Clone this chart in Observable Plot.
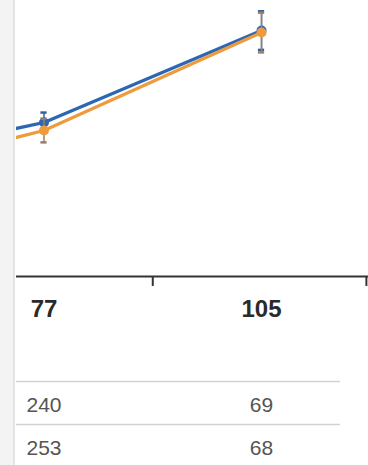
<!DOCTYPE html>
<html>
<head>
<meta charset="utf-8">
<script src="https://cdn.jsdelivr.net/npm/d3@7"></script>
<script src="https://cdn.jsdelivr.net/npm/@observablehq/plot@0.6"></script>
<style>
  html, body { margin: 0; padding: 0; background: #fff; }
  #wrap { position: relative; width: 368px; height: 465px; overflow: hidden; }
  #strip { position: absolute; left: 0; top: 0; width: 13px; height: 100%; background: #f3f3f3; border-right: 2px solid #e4e4e4; }
  #chart { position: relative; }
  #chart svg { display: block; }
</style>
</head>
<body>
<div id="wrap"><div id="strip"></div><div id="chart"></div></div>
<script>
// Visit days and mean response (with error) for the two arms
const visits = [49, 77, 105];
const seriesNames = ["A", "B"];
const meansA = [38.9, 55.8, 89.1];
const errorsA = [3.5, 3.6, 7.0];
const meansB = [33.2, 52.9, 88.4];
const errorsB = [4.0, 4.3, 7.2];

// Visits labelled under the axis, and the boundaries between visit windows
const labeledVisits = [77, 105];
const visitEdges = [91, 118.5];

// Number of subjects per arm at each labelled visit
const atRiskA = [240, 69];
const atRiskB = [253, 68];

const colors = { A: "#2b67b3", B: "#ee9b3d" };
const barColors = { A: "#3560a0", B: "#9c7d68" };
const font = "Liberation Sans, Arial, Helvetica, sans-serif";

const rows = [];
seriesNames.forEach((s, k) => {
  const m = k ? meansB : meansA;
  const e = k ? errorsB : errorsA;
  visits.forEach((t, i) => rows.push({ series: s, t, v: m[i], lo: m[i] - e[i], hi: m[i] + e[i] }));
});

const xScale = { domain: [73.46, 118.77], range: [16, 368], axis: null, label: null };

const seriesMarks = seriesNames.flatMap(s => {
  const d = rows.filter(r => r.series === s);
  const c = barColors[s];
  return [
    Plot.line(d, { x: "t", y: "v", stroke: colors[s], strokeWidth: 3.2, clip: true }),
    Plot.ruleX(d, { x: "t", y1: "lo", y2: "hi", stroke: c, strokeWidth: 1.5, clip: true }),
    Plot.ruleY(d, { y: "hi", x1: r => r.t - 0.4, x2: r => r.t + 0.4, stroke: c, strokeWidth: 2.5, clip: true }),
    Plot.ruleY(d, { y: "lo", x1: r => r.t - 0.4, x2: r => r.t + 0.4, stroke: c, strokeWidth: 2.5, clip: true }),
    Plot.dot(d, { x: "t", y: "v", r: 5, fill: colors[s], clip: true })
  ];
});

const chart = Plot.plot({
  width: 368,
  height: 330,
  marginLeft: 16,
  marginRight: 0,
  marginTop: 0,
  marginBottom: 54,
  style: { fontFamily: font, background: "transparent", overflow: "visible" },
  x: xScale,
  y: { domain: [0, 100], axis: null, label: null },
  marks: [
    ...seriesMarks,
    Plot.ruleY([0], { stroke: "#333", strokeWidth: 2 }),
    // tick marks hanging below the axis at each visit-window boundary
    Plot.ruleX(visitEdges, { x: d => d, y1: 0, y2: -3.6, stroke: "#333", strokeWidth: 2 }),
    Plot.text(labeledVisits, {
      x: d => d, frameAnchor: "bottom", dy: 40, text: d => String(d),
      fontSize: 24, fontWeight: "bold", fill: "#2a2a2a"
    })
  ]
});

// At-risk table: one row per arm, values under each labelled visit
const tableRows = [];
[atRiskA, atRiskB].forEach((vals, i) =>
  labeledVisits.forEach((t, j) => tableRows.push({ row: i + 0.5, t, n: vals[j] }))
);

const table = Plot.plot({
  width: 368,
  height: 135,
  marginLeft: 16,
  marginRight: 28,
  marginTop: 0,
  marginBottom: 0,
  style: { fontFamily: font, background: "transparent", overflow: "visible" },
  x: xScale,
  y: { domain: [0, 2], range: [51, 137], axis: null, label: null },
  marks: [
    Plot.ruleY([0, 1], { stroke: "#d2d2d2", strokeWidth: 1.5 }),
    Plot.text(tableRows, { x: "t", y: "row", dy: 2, text: d => String(d.n), fontSize: 21, fill: "#555" })
  ]
});

const host = document.getElementById("chart");
host.append(chart, table);
</script>
</body>
</html>
